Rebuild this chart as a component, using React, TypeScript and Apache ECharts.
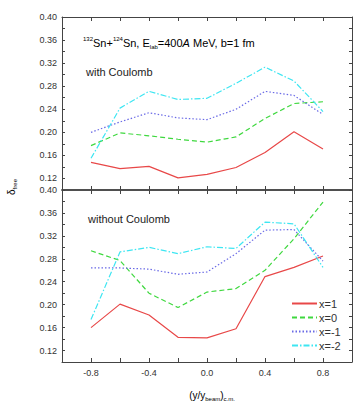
import React, { useEffect, useRef } from 'react';
import * as echarts from 'echarts';

const xValues = [-0.8, -0.6, -0.4, -0.2, 0.0, 0.2, 0.4, 0.6, 0.8];
const seriesNames = ['x=1', 'x=0', 'x=-1', 'x=-2'];

// with Coulomb (top panel)
const withX1 = [0.148, 0.137, 0.141, 0.121, 0.127, 0.139, 0.165, 0.201, 0.171];
const withX0 = [0.177, 0.199, 0.194, 0.188, 0.183, 0.192, 0.224, 0.250, 0.253];
const withXm1 = [0.200, 0.218, 0.234, 0.225, 0.222, 0.240, 0.271, 0.264, 0.231];
const withXm2 = [0.155, 0.242, 0.271, 0.257, 0.259, 0.285, 0.313, 0.289, 0.236];

// without Coulomb (bottom panel)
const woX1 = [0.160, 0.201, 0.182, 0.143, 0.142, 0.158, 0.249, 0.265, 0.285];
const woX0 = [0.294, 0.277, 0.220, 0.195, 0.222, 0.228, 0.260, 0.315, 0.379];
const woXm1 = [0.264, 0.264, 0.262, 0.253, 0.257, 0.289, 0.330, 0.331, 0.276];
const woXm2 = [0.174, 0.292, 0.300, 0.289, 0.301, 0.298, 0.344, 0.341, 0.265];

const yTickLabels = ['0.12', '0.16', '0.20', '0.24', '0.28', '0.32', '0.36', '0.40'];
const xTickLabels = ['-0.8', '-0.4', '0.0', '0.4', '0.8'];

const colors = ['#e84848', '#3fd83f', '#6a6ae6', '#3ee6f2'];
const dashes: any[] = ['solid', [5, 3], [1.5, 2], [6, 2, 1.5, 2]];

const FONT = 'Liberation Sans, Arial, Helvetica, sans-serif';

export default function App() {
  const ref = useRef<HTMLDivElement>(null);
  useEffect(() => {
    if (!ref.current) return;
    const chart = echarts.init(ref.current, undefined, { renderer: 'svg' });

    const axisColor = '#444';
    const yFmt = (v: number) => {
      const s = v.toFixed(2);
      return yTickLabels.includes(s) ? s : '';
    };
    const xFmt = (v: number) => {
      const s = v.toFixed(1) === '-0.0' ? '0.0' : v.toFixed(1);
      return xTickLabels.includes(s) ? s : '';
    };
    const mkX = (gridIndex: number, position: string, showLabel: boolean, lw: number) => ({
      type: 'value', gridIndex, position, min: -1, max: 1, interval: 0.2,
      axisLine: { show: true, onZero: false, lineStyle: { color: axisColor, width: lw } },
      axisTick: { show: true, inside: true, length: 4, lineStyle: { color: axisColor } },
      axisLabel: { show: showLabel, formatter: xFmt, fontSize: 9, color: '#333', margin: 6, fontFamily: FONT },
      splitLine: { show: false },
    });
    const mkY = (gridIndex: number, position: string, showLabel: boolean) => ({
      type: 'value', gridIndex, position, min: 0.10, max: 0.40, interval: 0.02,
      axisLine: { show: true, onZero: false, lineStyle: { color: axisColor, width: 1 } },
      axisTick: { show: true, inside: true, length: 3, lineStyle: { color: axisColor } },
      axisLabel: { show: showLabel, formatter: yFmt, fontSize: 9, color: '#333', margin: 5, fontFamily: FONT },
      splitLine: { show: false },
    });

    const panels = [[withX1, withX0, withXm1, withXm2], [woX1, woX0, woXm1, woXm2]];
    const series: any[] = [];
    panels.forEach((arrs, p) => {
      arrs.forEach((arr, i) => {
        series.push({
          type: 'line', name: seriesNames[i],
          xAxisIndex: p * 2, yAxisIndex: p * 2,
          data: xValues.map((x, k) => [x, arr[k]]),
          symbol: 'none', showSymbol: false,
          lineStyle: { color: colors[i], width: 1.2, type: dashes[i] },
          itemStyle: { color: colors[i] },
        });
      });
    });

    const supStyle = { fontSize: 6, fontFamily: FONT, color: '#222', verticalAlign: 'top', lineHeight: 7 };
    const subStyle = { fontSize: 6, fontFamily: FONT, color: '#222', verticalAlign: 'bottom', lineHeight: 7 };
    const nStyle = { fontSize: 11, fontFamily: FONT, color: '#222', lineHeight: 14 };

    chart.setOption({
      animation: false,
      backgroundColor: '#fff',
      grid: [
        { left: 62, right: 5, top: 17, height: 173 },
        { left: 62, right: 5, top: 190, height: 172 },
      ],
      xAxis: [mkX(0, 'bottom', false, 1.5), mkX(0, 'top', false, 1), mkX(1, 'bottom', true, 1), mkX(1, 'top', false, 1.5)],
      yAxis: [mkY(0, 'left', true), mkY(0, 'right', false), mkY(1, 'left', true), mkY(1, 'right', false)],
      legend: {
        data: seriesNames,
        orient: 'vertical',
        left: 286, top: 293,
        itemWidth: 25, itemHeight: 11, itemGap: 3,
        itemStyle: { opacity: 0 },
        textStyle: { fontSize: 11, color: '#333', fontFamily: FONT, padding: [0, 0, 0, -3] },
      },
      graphic: [
        {
          type: 'text', x: 83, y: 43,
          style: {
            text: '{sup|132}{n|Sn+}{sup|124}{n|Sn, E}{sub|lab}{n|=400}{it|A}{n| MeV, b=1 fm}',
            verticalAlign: 'middle', align: 'left',
            rich: { sup: supStyle, sub: subStyle, n: nStyle, it: { ...nStyle, fontStyle: 'italic' } },
          },
        },
        {
          type: 'text', x: 86, y: 72,
          style: { text: 'with Coulomb', fontSize: 11, fontFamily: FONT, fill: '#222', verticalAlign: 'middle' },
        },
        {
          type: 'text', x: 88, y: 219,
          style: { text: 'without Coulomb', fontSize: 11, fontFamily: FONT, fill: '#222', verticalAlign: 'middle' },
        },
        {
          type: 'text', x: 11, y: 187, rotation: Math.PI / 2,
          style: {
            text: '{n|δ}{sub|free}', align: 'center', verticalAlign: 'middle',
            rich: { n: { ...nStyle, fontSize: 10 }, sub: subStyle },
          },
        },
        {
          type: 'text', x: 212, y: 395,
          style: {
            text: '{n|(y/y}{sub|beam}{n|)}{sub|c.m.}', align: 'center', verticalAlign: 'middle',
            rich: { n: { ...nStyle, fontSize: 10 }, sub: subStyle },
          },
        },
      ],
      series,
    });
    return () => chart.dispose();
  }, []);
  return <div ref={ref} style={{ position: 'fixed', left: 0, top: 0, width: 357, height: 409 }} />;
}
